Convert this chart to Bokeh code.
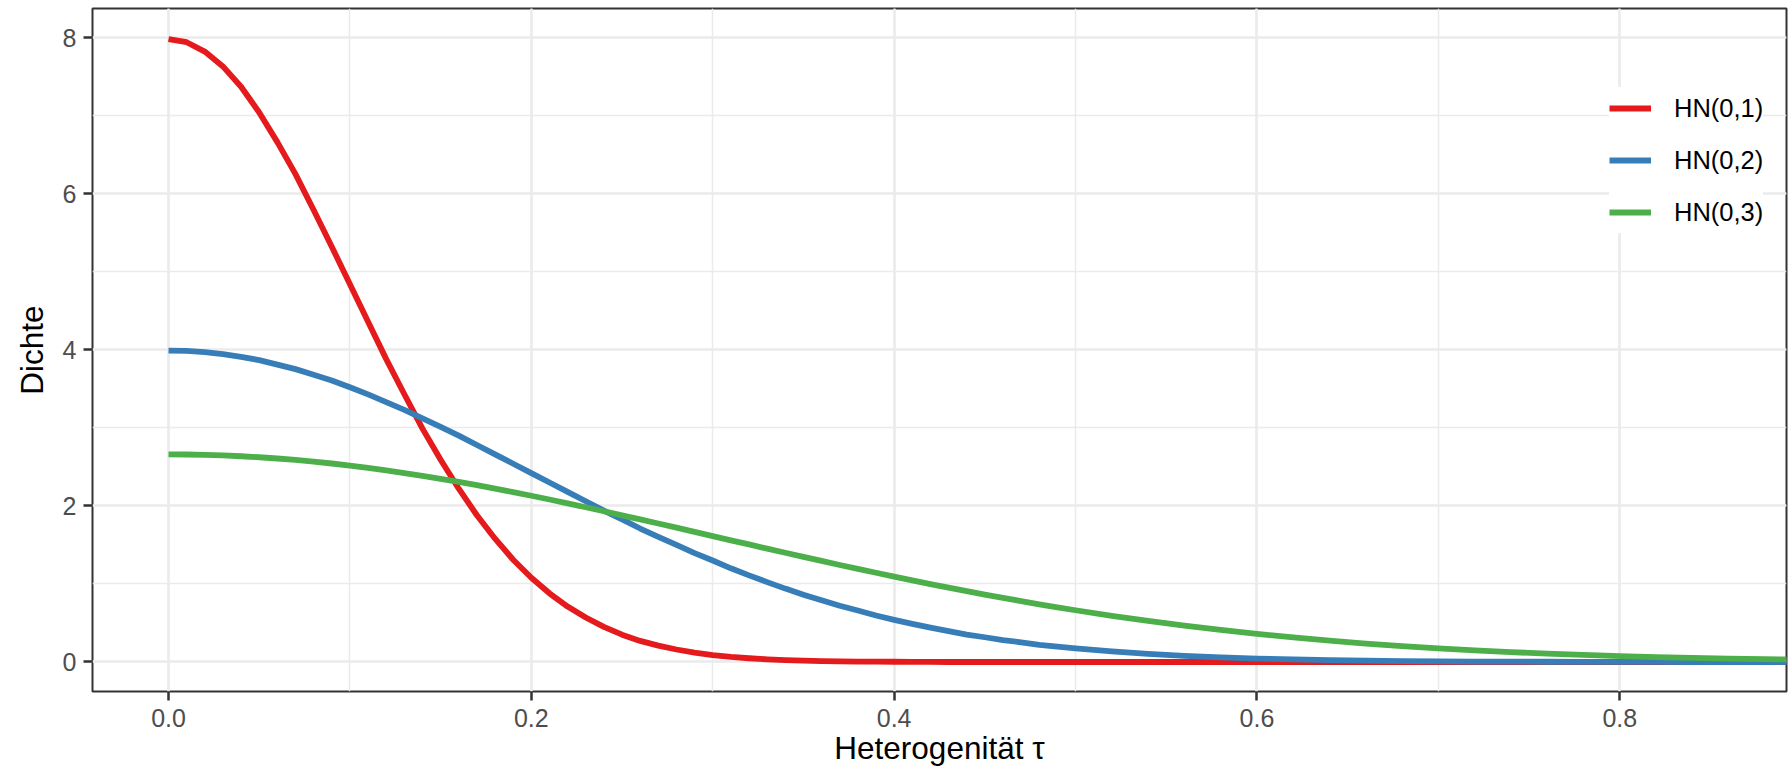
from bokeh.plotting import figure
from bokeh.models import Range1d, SingleIntervalTicker, PrintfTickFormatter, Legend, LegendItem, ColumnDataSource
from bokeh.embed import file_html
from bokeh.resources import INLINE

# tau values (x)
tau = [0.00, 0.01, 0.02, 0.03, 0.04, 0.05, 0.06, 0.07, 0.08, 0.09,
       0.10, 0.11, 0.12, 0.13, 0.14, 0.15, 0.16, 0.17, 0.18, 0.19,
       0.20, 0.21, 0.22, 0.23, 0.24, 0.25, 0.26, 0.27, 0.28, 0.29,
       0.30, 0.31, 0.32, 0.33, 0.34, 0.35, 0.36, 0.37, 0.38, 0.39,
       0.40, 0.41, 0.42, 0.43, 0.44, 0.45, 0.46, 0.47, 0.48, 0.49,
       0.50, 0.52, 0.54, 0.56, 0.58, 0.60, 0.62, 0.64, 0.66, 0.68,
       0.70, 0.72, 0.74, 0.76, 0.78, 0.80, 0.82, 0.84, 0.86, 0.88,
       0.90]

hn1 = [7.98, 7.94, 7.82, 7.63, 7.37, 7.04, 6.66, 6.25, 5.79, 5.32,
       4.84, 4.36, 3.88, 3.43, 2.99, 2.59, 2.22, 1.88, 1.58, 1.31,
       1.08, 0.88, 0.71, 0.57, 0.45, 0.35, 0.27, 0.21, 0.16, 0.12,
       0.089, 0.065, 0.048, 0.034, 0.025, 0.017, 0.012, 0.008, 0.006, 0.004,
       0.003, 0.002, 0.001, 0.0, 0.0, 0.0, 0.0, 0.0, 0.0, 0.0,
       0.0, 0.0, 0.0, 0.0, 0.0, 0.0, 0.0, 0.0, 0.0, 0.0,
       0.0, 0.0, 0.0, 0.0, 0.0, 0.0, 0.0, 0.0, 0.0, 0.0,
       0.0]

hn2 = [3.99, 3.985, 3.97, 3.945, 3.91, 3.867, 3.81, 3.752, 3.68, 3.605,
       3.52, 3.429, 3.33, 3.230, 3.12, 3.011, 2.90, 2.780, 2.66, 2.540,
       2.42, 2.299, 2.18, 2.059, 1.94, 1.826, 1.71, 1.604, 1.50, 1.394,
       1.30, 1.200, 1.11, 1.023, 0.94, 0.863, 0.79, 0.721, 0.66, 0.596,
       0.54, 0.488, 0.44, 0.396, 0.35, 0.317, 0.28, 0.252, 0.22, 0.198,
       0.175, 0.136, 0.104, 0.079, 0.059, 0.044, 0.033, 0.024, 0.017, 0.012,
       0.009, 0.006, 0.004, 0.003, 0.002, 0.001, 0.001, 0.0, 0.0, 0.0,
       0.0]

hn3 = [2.66, 2.658, 2.654, 2.646, 2.636, 2.623, 2.607, 2.588, 2.567, 2.543,
       2.516, 2.487, 2.455, 2.421, 2.385, 2.347, 2.307, 2.265, 2.221, 2.176,
       2.130, 2.082, 2.033, 1.982, 1.931, 1.879, 1.827, 1.774, 1.721, 1.667,
       1.613, 1.559, 1.506, 1.452, 1.399, 1.347, 1.295, 1.243, 1.192, 1.143,
       1.093, 1.045, 0.998, 0.952, 0.907, 0.863, 0.821, 0.780, 0.739, 0.701,
       0.663, 0.592, 0.526, 0.466, 0.410, 0.360, 0.314, 0.273, 0.236, 0.204,
       0.175, 0.149, 0.127, 0.107, 0.091, 0.076, 0.063, 0.053, 0.044, 0.036,
       0.030]

labels = ["HN(0,1)", "HN(0,2)", "HN(0,3)"]
colors = ["#E41A1C", "#377EB8", "#4DAF4A"]

FONT = "Liberation Sans"

p = figure(width=1788, height=768, output_backend="svg", toolbar_location=None,
           x_range=Range1d(-0.0419, 0.8919), y_range=Range1d(-0.378, 8.372),
           min_border_left=92, min_border_right=2, min_border_top=8, min_border_bottom=77)

p.background_fill_color = "white"
p.border_fill_color = "white"
p.outline_line_color = "#333333"
p.outline_line_width = 2

src = ColumnDataSource(dict(tau=tau, hn1=hn1, hn2=hn2, hn3=hn3))
renderers = []
for key, col in zip(["hn1", "hn2", "hn3"], colors):
    r = p.line("tau", key, source=src, line_color=col, line_width=5.8, line_join="round")
    renderers.append(r)

p.xaxis.ticker = SingleIntervalTicker(interval=0.2, num_minor_ticks=2)
p.yaxis.ticker = SingleIntervalTicker(interval=2, num_minor_ticks=2)
p.xaxis.formatter = PrintfTickFormatter(format="%.1f")
p.yaxis.formatter = PrintfTickFormatter(format="%d")

for ax in (p.xaxis, p.yaxis):
    ax.axis_line_color = None
    ax.major_tick_line_color = "#333333"
    ax.major_tick_line_width = 2.5
    ax.major_tick_out = 9
    ax.major_tick_in = 0
    ax.minor_tick_line_color = None
    ax.major_label_text_font = FONT
    ax.major_label_text_font_size = "25px"
    ax.major_label_text_color = "#4D4D4D"
    ax.axis_label_text_font = FONT
    ax.axis_label_text_font_size = "31.5px"
    ax.axis_label_text_font_style = "normal"
    ax.axis_label_text_color = "black"

p.xaxis.axis_label = "Heterogenität τ"
p.yaxis.axis_label = "Dichte"
p.xaxis.major_label_standoff = 8
p.xaxis.axis_label_standoff = 0
p.yaxis.major_label_standoff = 7
p.yaxis.axis_label_standoff = 10

for g in (p.xgrid, p.ygrid):
    g.grid_line_color = "#EBEBEB"
    g.grid_line_width = 2.7
    g.minor_grid_line_color = "#EBEBEB"
    g.minor_grid_line_width = 1.5

legend = Legend(items=[LegendItem(label=l, renderers=[r]) for l, r in zip(labels, renderers)],
                location=(1517, 458))
legend.background_fill_color = "white"
legend.background_fill_alpha = 1.0
legend.border_line_color = None
legend.padding = 5
legend.margin = 0
legend.spacing = 10
legend.glyph_width = 42
legend.glyph_height = 42
legend.label_standoff = 23
legend.label_text_font = FONT
legend.label_text_font_size = "25.5px"
legend.label_text_color = "black"
p.add_layout(legend)

open("out.html", "w").write(file_html(p, INLINE))
